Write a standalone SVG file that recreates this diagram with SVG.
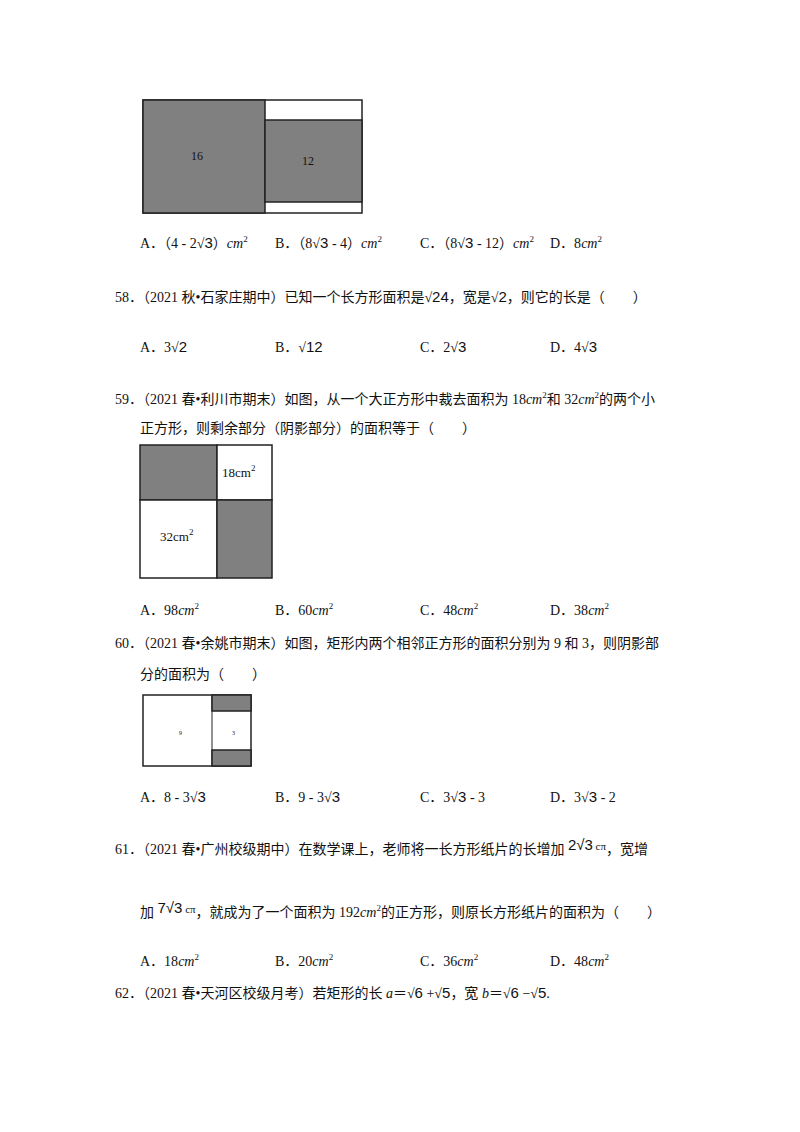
<svg xmlns="http://www.w3.org/2000/svg" width="800" height="1132" viewBox="0 0 800 1132">
<style>
text{font-family:"Liberation Serif","Noto Sans CJK SC",serif;font-size:14px;fill:#111}
.r{font-family:"Liberation Sans","DejaVu Sans",sans-serif;font-size:15px}
.i{font-style:italic}
.s{font-size:9px}
.d{fill:#808080;stroke:#222;stroke-width:1.5}
.w{fill:#fff;stroke:#222;stroke-width:1.5}
</style>
<rect width="800" height="1132" fill="#fff"/>
<g id="fig1">
<rect class="w" x="143" y="100" width="219" height="113"/>
<rect class="d" x="143" y="100" width="122" height="113"/>
<rect class="d" x="265" y="120" width="97" height="82"/>
<text x="191" y="160" style="font-size:12px">16</text>
<text x="302" y="165" style="font-size:12px">12</text>
</g>
<g id="q57opts">
<text x="140" y="248">A．（4 - 2√<tspan class="r">3</tspan>）<tspan class="i">cm</tspan><tspan class="s" dy="-6">2</tspan></text>
<text x="275" y="248">B．（8√<tspan class="r">3</tspan> - 4）<tspan class="i">cm</tspan><tspan class="s" dy="-6">2</tspan></text>
<text x="420" y="248">C．（8√<tspan class="r">3</tspan> - 12）<tspan class="i">cm</tspan><tspan class="s" dy="-6">2</tspan></text>
<text x="550" y="248">D．8<tspan class="i">cm</tspan><tspan class="s" dy="-6">2</tspan></text>
</g>
<g id="q58">
<text x="115" y="302">58．（2021 秋•石家庄期中）已知一个长方形面积是√<tspan class="r">24</tspan>，宽是√<tspan class="r">2</tspan>，则它的长是（　　）</text>
<text x="140" y="352">A．3√<tspan class="r">2</tspan></text>
<text x="275" y="352">B．√<tspan class="r">12</tspan></text>
<text x="420" y="352">C．2√<tspan class="r">3</tspan></text>
<text x="550" y="352">D．4√<tspan class="r">3</tspan></text>
</g>
<g id="q59">
<text x="115" y="404">59．（2021 春•利川市期末）如图，从一个大正方形中裁去面积为 18<tspan class="i">cm</tspan><tspan class="s" dy="-6">2</tspan><tspan dy="6">和 32</tspan><tspan class="i">cm</tspan><tspan class="s" dy="-6">2</tspan><tspan dy="6">的两个小</tspan></text>
<text x="140" y="433">正方形，则剩余部分（阴影部分）的面积等于（　　）</text>
</g>
<g id="fig2">
<rect class="d" x="140" y="445" width="77" height="55"/>
<rect class="w" x="217" y="445" width="55" height="55"/>
<rect class="w" x="140" y="500" width="77" height="78"/>
<rect class="d" x="217" y="500" width="55" height="78"/>
<text x="222" y="477" style="font-size:13px">18cm<tspan class="s" dy="-6">2</tspan></text>
<text x="160" y="541" style="font-size:13px">32cm<tspan class="s" dy="-6">2</tspan></text>
</g>
<g id="q59opts">
<text x="140" y="615">A．98<tspan class="i">cm</tspan><tspan class="s" dy="-6">2</tspan></text>
<text x="275" y="615">B．60<tspan class="i">cm</tspan><tspan class="s" dy="-6">2</tspan></text>
<text x="420" y="615">C．48<tspan class="i">cm</tspan><tspan class="s" dy="-6">2</tspan></text>
<text x="550" y="615">D．38<tspan class="i">cm</tspan><tspan class="s" dy="-6">2</tspan></text>
</g>
<g id="q60">
<text x="115" y="648">60．（2021 春•余姚市期末）如图，矩形内两个相邻正方形的面积分别为 9 和 3，则阴影部</text>
<text x="140" y="679">分的面积为（　　）</text>
</g>
<g id="fig3">
<rect class="w" x="143" y="695" width="108" height="71" stroke-width="1"/>
<line x1="212" y1="695" x2="212" y2="766" stroke="#222"/>
<rect class="d" x="212" y="695" width="39" height="16" stroke-width="1"/>
<rect class="d" x="212" y="750" width="39" height="16" stroke-width="1"/>
<text x="179" y="735" style="font-size:6px">9</text>
<text x="232" y="735" style="font-size:6px">3</text>
</g>
<g id="q60opts">
<text x="140" y="802">A．8 - 3√<tspan class="r">3</tspan></text>
<text x="275" y="802">B．9 - 3√<tspan class="r">3</tspan></text>
<text x="420" y="802">C．3√<tspan class="r">3</tspan> - 3</text>
<text x="550" y="802">D．3√<tspan class="r">3</tspan> - 2</text>
</g>
<g id="q61">
<text x="115" y="854">61．（2021 春•广州校级期中）在数学课上，老师将一长方形纸片的长增加 <tspan class="r" dy="-4">2√3</tspan><tspan style="font-size:11px"> cπ</tspan><tspan dy="4">，宽增</tspan></text>
<text x="140" y="917">加 <tspan class="r" dy="-4">7√3</tspan><tspan style="font-size:11px"> cπ</tspan><tspan dy="4">，就成为了一个面积为 192</tspan><tspan class="i">cm</tspan><tspan class="s" dy="-6">2</tspan><tspan dy="6">的正方形，则原长方形纸片的面积为（　　）</tspan></text>
<text x="140" y="966">A．18<tspan class="i">cm</tspan><tspan class="s" dy="-6">2</tspan></text>
<text x="275" y="966">B．20<tspan class="i">cm</tspan><tspan class="s" dy="-6">2</tspan></text>
<text x="420" y="966">C．36<tspan class="i">cm</tspan><tspan class="s" dy="-6">2</tspan></text>
<text x="550" y="966">D．48<tspan class="i">cm</tspan><tspan class="s" dy="-6">2</tspan></text>
</g>
<g id="q62">
<text x="115" y="998">62．（2021 春•天河区校级月考）若矩形的长 <tspan class="i">a</tspan>＝√<tspan class="r">6</tspan> +√<tspan class="r">5</tspan>，宽 <tspan class="i">b</tspan>＝√<tspan class="r">6</tspan> −√<tspan class="r">5</tspan>.</text>
</g>
</svg>
